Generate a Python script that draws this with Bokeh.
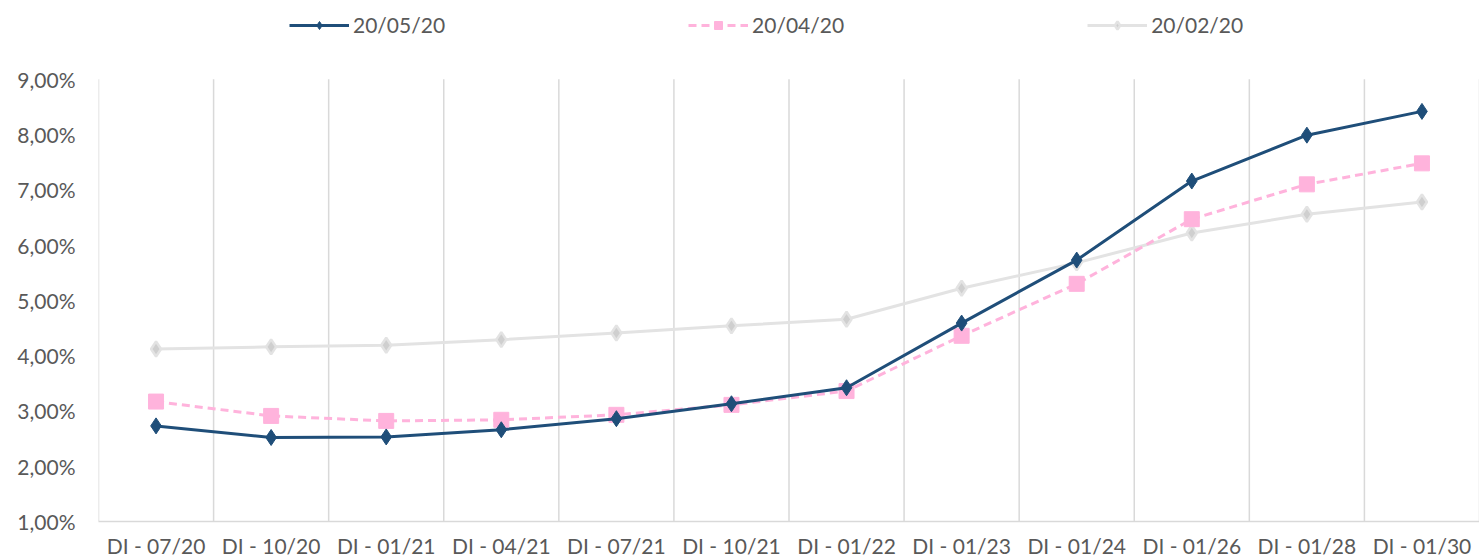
from bokeh.plotting import figure
from bokeh.models import Legend, LegendItem, FixedTicker, ColumnDataSource
from bokeh.embed import file_html
from bokeh.resources import INLINE

categories = ["DI - 07/20", "DI - 10/20", "DI - 01/21", "DI - 04/21", "DI - 07/21", "DI - 10/21",
              "DI - 01/22", "DI - 01/23", "DI - 01/24", "DI - 01/26", "DI - 01/28", "DI - 01/30"]
s_0520 = [2.73, 2.52, 2.53, 2.66, 2.86, 3.13, 3.42, 4.59, 5.73, 7.16, 7.99, 8.42]
s_0420 = [3.17, 2.91, 2.82, 2.84, 2.93, 3.11, 3.36, 4.36, 5.30, 6.47, 7.10, 7.48]
s_0220 = [4.12, 4.16, 4.19, 4.29, 4.41, 4.54, 4.66, 5.22, 5.68, 6.22, 6.56, 6.78]
y_ticks = [1, 2, 3, 4, 5, 6, 7, 8, 9]
y_tick_labels = ["1,00%", "2,00%", "3,00%", "4,00%", "5,00%", "6,00%", "7,00%", "8,00%", "9,00%"]

FONT = "Lato"
TXT = "#595959"
Y_MIN, Y_MAX = y_ticks[0], y_ticks[-1]

xs = [i + 0.5 for i in range(len(categories))]
bounds = list(range(len(categories) + 1))
src = ColumnDataSource(dict(x=xs, a=s_0520, b=s_0420, c=s_0220))

# frame reaches to the top of the canvas so the legend (inside the frame) sits above the plotted area
p = figure(width=1479, height=560, output_backend="svg", toolbar_location=None,
           x_range=(0, len(categories)), y_range=(Y_MIN, Y_MAX + 1.4266),
           min_border_left=98, min_border_right=0, min_border_top=0, min_border_bottom=38)
p.outline_line_color = None

# vertical category-boundary gridlines
p.segment(x0=bounds, y0=[Y_MIN] * len(bounds), x1=bounds, y1=[Y_MAX] * len(bounds),
          line_color="#D9D9D9", line_width=1.5)

# grey series
r3l = p.line("x", "c", source=src, line_color="#E3E3E3", line_width=3)
r3m = p.scatter("x", "c", source=src, marker="diamond", size=15, fill_color="#CFCFCF",
                line_color="#E3E3E3", line_width=2.5)
# pink series
r2l = p.line("x", "b", source=src, line_color="#FFB3DC", line_width=3, line_dash="8 5")
r2m = p.scatter("x", "b", source=src, marker="square", size=15, fill_color="#FFB3DC",
                line_color="#FFB3DC", line_width=1)
# navy series
r1l = p.line("x", "a", source=src, line_color="#1F4E79", line_width=3)
r1m = p.scatter("x", "a", source=src, marker="diamond", size=16, fill_color="#1F4E79",
                line_color="#1F4E79", line_width=1)

# axes
p.xaxis.ticker = FixedTicker(ticks=xs)
p.xaxis.major_label_overrides = {x: c for x, c in zip(xs, categories)}
p.xaxis.major_tick_line_color = None
p.xaxis.minor_tick_line_color = None
p.xaxis.axis_line_color = "#D9D9D9"
p.xaxis.axis_line_width = 1.5
p.xaxis.major_label_text_font = FONT
p.xaxis.major_label_text_font_size = "21px"
p.xaxis.major_label_text_color = TXT
p.xaxis.major_label_standoff = 5

p.yaxis.ticker = FixedTicker(ticks=y_ticks)
p.yaxis.major_label_overrides = {t: l for t, l in zip(y_ticks, y_tick_labels)}
p.yaxis.major_tick_line_color = None
p.yaxis.minor_tick_line_color = None
p.yaxis.axis_line_color = None
p.yaxis.major_label_text_font = FONT
p.yaxis.major_label_text_font_size = "21px"
p.yaxis.major_label_text_color = TXT
p.yaxis.major_label_standoff = 17

p.xgrid.grid_line_color = None
p.ygrid.grid_line_color = None

legend = Legend(items=[
    LegendItem(label="20/05/20", renderers=[r1l, r1m]),
    LegendItem(label="20/04/20", renderers=[r2l, r2m]),
    LegendItem(label="20/02/20", renderers=[r3l, r3m]),
], orientation="horizontal", location=(191, 484), spacing=243, glyph_width=60,
   label_standoff=4, border_line_color=None, background_fill_alpha=0,
   label_text_font=FONT, label_text_font_size="21px", label_text_color=TXT,
   margin=0, padding=6)
p.add_layout(legend, "center")

open("out.html", "w").write(file_html(p, INLINE))
